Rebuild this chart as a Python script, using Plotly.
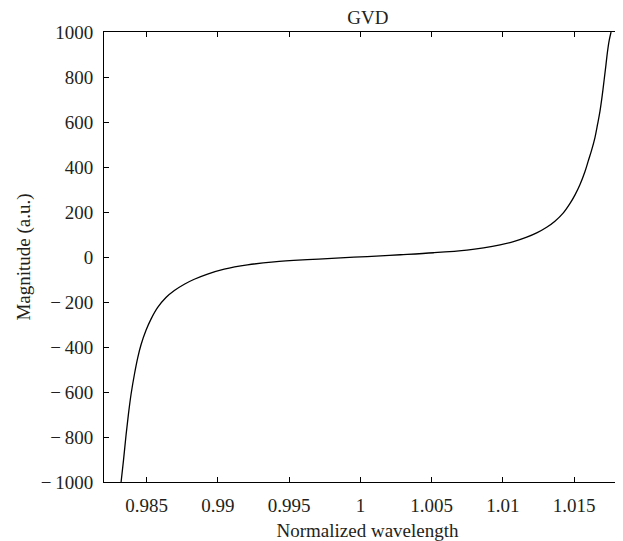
import plotly.graph_objects as go

# Data
wavelength = [0.98320, 0.98337, 0.98355, 0.98372, 0.98390, 0.98414, 0.98437, 0.98460,
              0.98495, 0.98530, 0.98577, 0.98635, 0.98694, 0.98764, 0.98834, 0.98927,
              0.99044, 0.99207, 0.99394, 0.99627, 0.99861, 1.00048, 1.00281, 1.00515,
              1.00748, 1.00865, 1.00981, 1.01075, 1.01168, 1.01238, 1.01308, 1.01366,
              1.01425, 1.01472, 1.01507, 1.01542, 1.01577, 1.01600, 1.01623, 1.01647,
              1.01665, 1.01682, 1.01698, 1.01712, 1.01724, 1.01735, 1.01747, 1.01760]
gvd = [-1000, -903, -790, -696, -610, -520, -447, -390,
       -326, -276, -224, -180, -149, -121, -99, -76,
       -54, -35, -22, -12, -4, 2, 10, 19,
       31, 41, 54, 68, 88, 107, 132, 159,
       196, 238, 276, 322, 380, 427, 474, 531,
       589, 647, 718, 790, 853, 913, 963, 1000]

x_ticks = [0.985, 0.99, 0.995, 1.0, 1.005, 1.01, 1.015]
x_tick_labels = ["0.985", "0.99", "0.995", "1", "1.005", "1.01", "1.015"]
y_ticks = [-1000, -800, -600, -400, -200, 0, 200, 400, 600, 800, 1000]
y_tick_labels = ["\u2212\u20091000", "\u2212\u2009800", "\u2212\u2009600", "\u2212\u2009400",
                 "\u2212\u2009200", "0", "200", "400", "600", "800", "1000"]

FONT = "Liberation Serif"
TXT = "#231f20"

fig = go.Figure()
fig.add_trace(go.Scatter(x=wavelength, y=gvd, mode="lines",
                         line=dict(color="black", width=1.3, shape="spline", smoothing=1.0),
                         hoverinfo="skip", showlegend=False))
# invisible trace carrying the right-hand tick axis
fig.add_trace(go.Scatter(x=wavelength, y=gvd, mode="lines", yaxis="y2",
                         line=dict(color="rgba(0,0,0,0)", width=0),
                         hoverinfo="skip", showlegend=False))

fig.update_layout(
    width=623, height=541,
    margin=dict(l=96, r=0, t=24, b=67),
    paper_bgcolor="white", plot_bgcolor="white",
    font=dict(family=FONT, size=19, color=TXT),
    title=dict(text="GVD", x=0.5775, xanchor="center", y=0.982, yanchor="middle",
               font=dict(family=FONT, size=19, color=TXT)),
    xaxis=dict(range=[0.982, 1.019], tickvals=x_ticks, ticktext=x_tick_labels,
               ticks="inside", ticklen=5, tickwidth=1, tickcolor="black",
               showline=True, linecolor="black", linewidth=1, mirror="ticks",
               showgrid=False, zeroline=False, ticklabelstandoff=6,
               title=dict(text="Normalized wavelength", standoff=8,
                          font=dict(family=FONT, size=19, color=TXT))),
    yaxis=dict(range=[-1000, 1000], tickvals=y_ticks, ticktext=y_tick_labels,
               ticks="inside", ticklen=5, tickwidth=1, tickcolor="black",
               showline=True, linecolor="black", linewidth=1,
               showgrid=False, zeroline=False, ticklabelstandoff=6,
               title=dict(text="Magnitude (a.u.)", standoff=5,
                          font=dict(family=FONT, size=19, color=TXT))),
    yaxis2=dict(range=[-1000, 1000], tickvals=y_ticks, overlaying="y", side="right",
                ticks="inside", ticklen=5, tickwidth=1, tickcolor="black",
                showticklabels=False, showline=False, showgrid=False, zeroline=False),
)

fig.write_html("out.html")
